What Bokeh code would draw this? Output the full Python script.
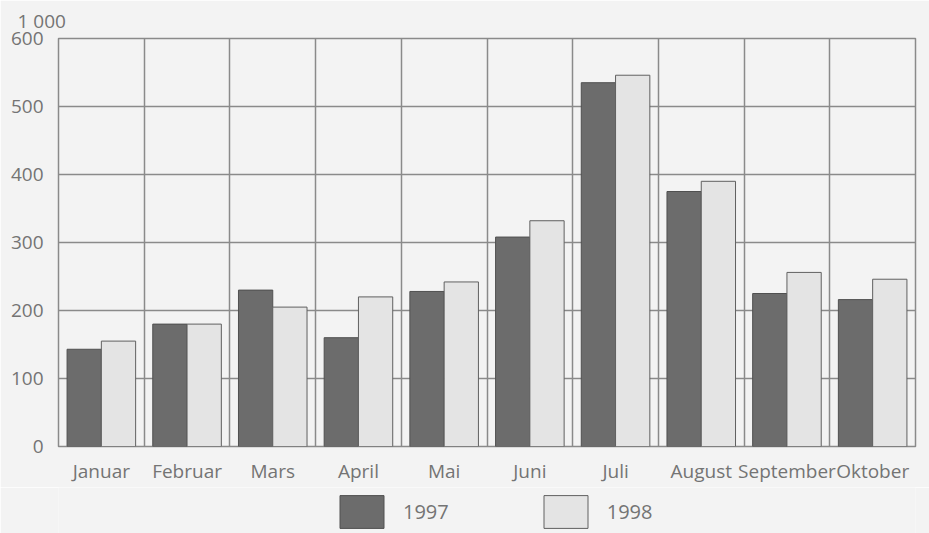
from bokeh.plotting import figure
from bokeh.models import (Range1d, FixedTicker, Legend, LegendItem, ColumnDataSource)
from bokeh.layouts import column
from bokeh.embed import file_html
from bokeh.resources import INLINE

months = ["Januar", "Februar", "Mars", "April", "Mai", "Juni", "Juli",
          "August", "September", "Oktober"]
v1997 = [143, 180, 230, 160, 228, 308, 535, 375, 225, 216]
v1998 = [155, 180, 205, 220, 242, 332, 546, 390, 256, 246]
series_names = ["1997", "1998"]
y_ticks = [0, 100, 200, 300, 400, 500, 600]
unit_label = "1 000"

FONT = "Open Sans"
TXT = "#747474"
GRID = "#8a8a8a"
BG = "#f3f3f3"
C1, L1 = "#6c6c6c", "#505050"
C2, L2 = "#e4e4e4", "#606060"

p = figure(width=929, height=487, output_backend="svg", toolbar_location=None,
           x_range=Range1d(0, len(months)), y_range=Range1d(0, 600),
           min_border_left=58, min_border_right=14, min_border_top=38,
           min_border_bottom=41)
p.background_fill_color = BG
p.border_fill_color = BG
p.outline_line_color = GRID
p.outline_line_width = 1.5

# unit label above the y axis
p.title.text = unit_label
p.title.align = "left"
p.title.offset = -41
p.title.standoff = 10
p.title.text_font = FONT
p.title.text_font_size = "19px"
p.title.text_font_style = "normal"
p.title.text_color = TXT

xs = list(range(len(months)))
src = ColumnDataSource(dict(
    x1=[i + 0.3 for i in xs], x2=[i + 0.7 for i in xs],
    v1=v1997, v2=v1998))

p.vbar(x="x1", top="v1", width=0.4, bottom=0, source=src,
       fill_color=C1, line_color=L1, line_width=1)
p.vbar(x="x2", top="v2", width=0.4, bottom=0, source=src,
       fill_color=C2, line_color=L2, line_width=1)

# axes
p.xaxis.ticker = FixedTicker(ticks=[i + 0.5 for i in xs])
p.xaxis.major_label_overrides = {i + 0.5: m for i, m in enumerate(months)}
p.yaxis.ticker = FixedTicker(ticks=y_ticks)
for ax in (p.xaxis[0], p.yaxis[0]):
    ax.axis_line_color = None
    ax.major_tick_line_color = None
    ax.minor_tick_line_color = None
    ax.major_label_text_font = FONT
    ax.major_label_text_font_size = "19px"
    ax.major_label_text_color = TXT
p.xaxis.major_label_standoff = 5
p.yaxis.major_label_standoff = 9

p.xgrid.ticker = FixedTicker(ticks=list(range(len(months) + 1)))
p.ygrid.ticker = FixedTicker(ticks=y_ticks)
for g in (p.xgrid[0], p.ygrid[0]):
    g.grid_line_color = GRID
    g.grid_line_width = 1.5
p.xgrid.level = "underlay"
p.ygrid.level = "underlay"

# legend strip below the chart (frames are aligned with the chart above)
q = figure(width=929, height=46, output_backend="svg", toolbar_location=None,
           x_axis_type=None, y_axis_type=None,
           x_range=Range1d(0, 1), y_range=Range1d(0, 1),
           min_border=0)
q.background_fill_color = BG
q.border_fill_color = BG
q.outline_line_color = None
q.xgrid.visible = False
q.ygrid.visible = False
# legend-only renderers: one placeholder row each, outside the visible range
e = ColumnDataSource(dict(x=[-5], top=[0]))
g1 = q.vbar(x="x", top="top", width=0.1, source=e,
            fill_color=C1, line_color=L1, line_width=1)
g2 = q.vbar(x="x", top="top", width=0.1, source=e,
            fill_color=C2, line_color=L2, line_width=1)
legend = Legend(items=[LegendItem(label=series_names[0], renderers=[g1]),
                       LegendItem(label=series_names[1], renderers=[g2])],
                orientation="horizontal", location=(276, 1),
                glyph_width=55, glyph_height=41, label_standoff=14,
                spacing=89, padding=0, margin=0,
                border_line_color=None, background_fill_alpha=0,
                label_text_font=FONT, label_text_font_size="20px",
                label_text_color=TXT)
q.add_layout(legend, "center")

open("out.html", "w").write(file_html(column(p, q, spacing=0), INLINE))
